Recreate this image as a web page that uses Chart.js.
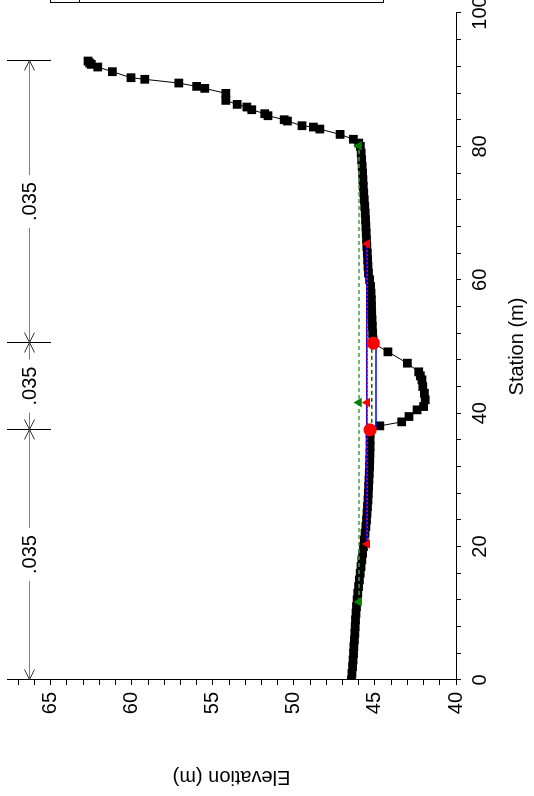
<!DOCTYPE html>
<html>
<head>
<meta charset="utf-8">
<script src="https://cdn.jsdelivr.net/npm/chart.js@4"></script>
<style>
html, body { margin: 0; padding: 0; background: #fff; overflow: hidden; }
/* the cross section is drawn the normal way and turned a quarter turn left */
#wrap { position: absolute; left: 0; top: 0; width: 796px; height: 534px;
        transform-origin: 0 0; transform: translateY(796px) rotate(-90deg); }
</style>
</head>
<body>
<div id="wrap"><canvas id="chart" width="796" height="534"></canvas></div>
<script>
// ground points (station m, elevation m)
const groundSta = [0, 1, 2, 3, 4, 5, 6, 7, 8, 9, 10, 11, 12, 13, 14, 15, 16, 17, 18, 19,
    20, 21, 22, 23, 24, 25, 26, 27, 28, 29, 30, 31, 32, 33, 34, 35, 36, 37, 37.5,
    38.1, 38.7, 39.5, 40.5, 41.0, 42.0, 43.0, 44.0, 45.0, 45.6, 46.2, 47.5, 49.2, 50.5,
    51, 52, 53, 54, 55, 56, 57, 58, 59, 60, 61, 62, 63, 64, 65, 66, 67, 68, 69, 70,
    71, 72, 73, 74, 75, 76, 77, 78, 79, 80, 80.5, 81.07, 81.8, 82.6, 82.9, 83.1, 83.8,
    84.0, 84.6, 84.9, 85.5, 85.9, 86.3, 86.9, 87.95, 88.7, 89.0, 89.5, 90.06, 90.3,
    91.2, 91.9, 92.3, 92.5, 92.8];
const groundElev = [46.45, 46.42, 46.38, 46.35, 46.32, 46.3, 46.27, 46.24, 46.22, 46.2,
    46.17, 46.14, 46.1, 46.06, 46.01, 45.96, 45.91, 45.86, 45.81, 45.76,
    45.71, 45.66, 45.61, 45.56, 45.52, 45.49, 45.46, 45.43, 45.41, 45.39,
    45.37, 45.35, 45.33, 45.32, 45.31, 45.3, 45.3, 45.3, 45.3,
    44.7, 43.35, 42.9, 42.4, 42.0, 41.9, 41.95, 42.05, 42.1, 42.2, 42.3, 43.0, 44.2, 45.1,
    45.12, 45.14, 45.16, 45.18, 45.2, 45.21, 45.22, 45.24, 45.27, 45.33, 45.4, 45.43,
    45.45, 45.47, 45.5, 45.52, 45.54, 45.56, 45.58, 45.6, 45.63, 45.66, 45.69, 45.72,
    45.74, 45.76, 45.79, 45.82, 45.85, 45.9, 46.0, 46.33, 47.15, 48.4, 48.8, 49.5, 50.4,
    50.6, 51.6, 51.8, 52.6, 52.9, 53.5, 54.2, 54.2, 55.5, 56.0, 57.1, 59.2, 60.05,
    61.2, 62.1, 62.5, 62.6, 62.7];

// bank stations
const bankSta = [37.5, 50.5];
const bankElev = [45.3, 45.1];

// water surface lines
const egSta = [11.7, 41.6, 80.1];
const egElev = [45.98, 45.98, 45.98];
const wsSta = [20.4, 41.6, 65.4];
const wsElev = [45.5, 45.5, 45.5];
const critSta = [20.4, 41.6, 65.4];
const critElev = [45.47, 45.47, 45.47];
const chanEgSta = [37.5, 50.5];
const chanEgElev = [45.2, 45.2];
const chanWsSta = [37.7, 49.9];
const chanWsElev = [44.93, 44.93];

// manning n
const nDividers = [0, 37.5, 50.5, 92.8];
const nValues = ['.035', '.035', '.035'];

// axes
const stationTicks = [0, 4, 8, 12, 16, 20, 24, 28, 32, 36, 40, 44, 48, 52, 56, 60, 64, 68, 72, 76, 80, 84, 88, 92, 96, 100];
const stationLabels = [0, 20, 40, 60, 80, 100];
const elevTicks = [40, 41, 42, 43, 44, 45, 46, 47, 48, 49, 50, 51, 52, 53, 54, 55, 56, 57, 58, 59, 60, 61, 62, 63, 64, 65, 66, 67];
const elevLabels = [40, 45, 50, 55, 60, 65];

const FONT = '"Liberation Sans", Arial, sans-serif';

function pts(xs, ys) {
    return xs.map((x, i) => ({ x: x, y: ys[i] }));
}

const nPlugin = {
    id: 'nvalues',
    afterDraw(chart) {
        const ctx = chart.ctx;
        const xs = chart.scales.x;
        const area = chart.chartArea;
        const yLine = area.top + 22.5;
        ctx.save();
        ctx.lineWidth = 1;
        ctx.strokeStyle = '#000';
        nDividers.forEach(s => {
            const px = Math.round(xs.getPixelForValue(s)) + 0.5;
            ctx.beginPath();
            ctx.moveTo(px, area.top);
            ctx.lineTo(px, area.top + 44);
            ctx.stroke();
        });
        ctx.font = '20px ' + FONT;
        ctx.textAlign = 'center';
        ctx.textBaseline = 'middle';
        for (let i = 0; i < nValues.length; i++) {
            const a = Math.round(xs.getPixelForValue(nDividers[i])) + 0.5;
            const b = Math.round(xs.getPixelForValue(nDividers[i + 1])) + 0.5;
            const mid = (a + b) / 2;
            const tw = ctx.measureText(nValues[i]).width;
            ctx.strokeStyle = '#808080';
            ctx.beginPath();
            ctx.moveTo(a, yLine);
            ctx.lineTo(mid - tw / 2 - 7, yLine);
            ctx.moveTo(mid + tw / 2 + 7, yLine);
            ctx.lineTo(b, yLine);
            ctx.stroke();
            // arrow heads pointing at the dividers
            ctx.strokeStyle = '#333';
            [[a, 1], [b, -1]].forEach(([p, d]) => {
                ctx.beginPath();
                ctx.moveTo(p + 10 * d, yLine - 5);
                ctx.lineTo(p, yLine);
                ctx.lineTo(p + 10 * d, yLine + 5);
                ctx.stroke();
            });
            ctx.fillStyle = '#000';
            ctx.fillText(nValues[i], mid, yLine + 1);
        }
        // edge of the legend box, mostly outside
        ctx.strokeStyle = '#000';
        ctx.strokeRect(793.5, 50.5, 20, 333);
        ctx.beginPath();
        ctx.moveTo(793, 79.5);
        ctx.lineTo(796, 79.5);
        ctx.stroke();
        ctx.restore();
    }
};

new Chart(document.getElementById('chart'), {
    type: 'scatter',
    data: {
        datasets: [
            {
                label: 'Bank Sta',
                data: pts(bankSta, bankElev),
                pointStyle: 'circle',
                pointRadius: 6.5,
                backgroundColor: '#ff0000',
                borderColor: '#ff0000',
                borderWidth: 0,
                showLine: false
            },
            {
                label: 'Crit',
                data: pts(critSta, critElev),
                showLine: true,
                borderColor: '#ff0000',
                borderWidth: 1.5,
                borderDash: [2, 2],
                pointStyle: 'triangle',
                pointRadius: 5.5,
                backgroundColor: '#ff0000',
                pointBorderWidth: 0
            },
            {
                label: 'WS',
                data: pts(wsSta, wsElev),
                showLine: true,
                borderColor: '#0000ff',
                borderWidth: 1.5,
                pointRadius: 0
            },
            {
                label: 'EG',
                data: pts(egSta, egElev),
                showLine: true,
                borderColor: '#3f9f3f',
                borderWidth: 1.5,
                borderDash: [4, 3],
                pointStyle: 'triangle',
                pointRadius: 5.5,
                backgroundColor: '#008000',
                pointBorderWidth: 0
            },
            {
                label: 'EG chan',
                data: pts(chanEgSta, chanEgElev),
                showLine: true,
                borderColor: '#007800',
                borderWidth: 1.5,
                borderDash: [4, 3],
                pointRadius: 0
            },
            {
                label: 'WS chan',
                data: pts(chanWsSta, chanWsElev),
                showLine: true,
                borderColor: '#0000ff',
                borderWidth: 1.5,
                pointRadius: 0
            },
            {
                label: 'Ground',
                data: pts(groundSta, groundElev),
                showLine: true,
                borderColor: '#000',
                borderWidth: 1,
                pointStyle: 'rect',
                pointRadius: 6.2,
                backgroundColor: '#000',
                pointBorderWidth: 0
            }
        ]
    },
    options: {
        responsive: false,
        animation: false,
        devicePixelRatio: 1,
        layout: { padding: { top: 7, right: 13, left: 0, bottom: 0 } },
        plugins: { legend: { display: false }, tooltip: { enabled: false } },
        scales: {
            x: {
                type: 'linear',
                position: 'bottom',
                min: 0,
                max: 100,
                afterBuildTicks: s => { s.ticks = stationTicks.map(v => ({ value: v })); },
                afterFit: s => { s.height = 78; s.paddingLeft = 0; s.paddingRight = 0; },
                ticks: {
                    autoSkip: false,
                    maxRotation: 0,
                    padding: 7,
                    color: '#000',
                    font: { family: FONT, size: 20 },
                    callback: v => stationLabels.includes(v) ? String(v) : ''
                },
                grid: { drawOnChartArea: false, drawTicks: true, tickLength: 5, color: '#000' },
                border: { display: true, color: '#000', width: 1 },
                title: { display: true, text: 'Station (m)', color: '#000', font: { family: FONT, size: 20 }, padding: { top: 4, bottom: 5 } }
            },
            y: {
                type: 'linear',
                position: 'left',
                min: 40,
                max: 67.7,
                afterBuildTicks: s => { s.ticks = elevTicks.map(v => ({ value: v })); },
                afterFit: s => { s.width = 116; s.paddingTop = 0; s.paddingBottom = 0; },
                ticks: {
                    autoSkip: false,
                    padding: 7,
                    color: '#000',
                    font: { family: FONT, size: 20 },
                    callback: v => elevLabels.includes(v) ? String(v) : ''
                },
                grid: { drawOnChartArea: false, drawTicks: true, tickLength: 5, color: '#000' },
                border: { display: true, color: '#000', width: 1 },
                title: { display: true, text: 'Elevation (m)', color: '#000', font: { family: FONT, size: 20 }, padding: { top: 7, bottom: 4 } }
            }
        }
    },
    plugins: [nPlugin]
});
</script>
</body>
</html>
